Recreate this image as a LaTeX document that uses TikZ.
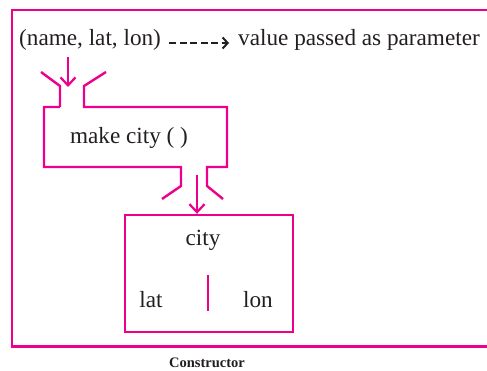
\documentclass[tikz,border=0pt]{standalone}
\usepackage{fontspec}
\setmainfont{Liberation Serif}
\usetikzlibrary{arrows.meta}
\definecolor{pinkline}{HTML}{EC008C}
\definecolor{txt}{HTML}{231F20}
\begin{document}
\begin{tikzpicture}[x=1pt,y=-1pt,
  pinkpath/.style={draw=pinkline,line width=2.4pt},
  pinkarrow/.style={draw=pinkline,line width=2.2pt,-{Straight Barb[length=8pt,width=15pt]}},
  lbl/.style={text=txt,font=\fontsize{23.2}{25}\selectfont,inner sep=0pt},
  captionlbl/.style={text=txt,font=\bfseries\fontsize{14.5}{16}\selectfont,inner sep=0pt}]
\useasboundingbox (0,0) rectangle (487,371);
% outer frame (right side runs off the picture)
\draw[pinkpath] (487,10) -- (12,10) -- (12,346.5) -- (487,346.5);
% top legend
\node[lbl,anchor=west] (params) at (19,40) {(name, lat, lon)};
\node[lbl,anchor=west] (legend) at (238,40) {value passed as parameter};
\draw[txt,line width=2pt,dash pattern=on 7pt off 3.5pt,-{Straight Barb[length=5pt,width=11pt,line width=2pt]}]
  ([xshift=8pt,yshift=-3pt]params.east) coordinate (da) -- ([xshift=-9pt,yshift=-3pt]legend.west) coordinate (db);
% make city box with notches
\draw[pinkpath] (60,107) -- (44,107) -- (44,167) -- (181,167) -- (181,186) -- (162,199);
\draw[pinkpath] (41,72) -- (60,86) -- (60,107);
\draw[pinkpath] (106,72) -- (84,86) -- (84,107) -- (227,107) -- (227,167) -- (207,167) -- (207,186) -- (223,199);
\node[lbl] (make) at (129,138) {make city ( )};
\coordinate (inTop) at (68,57);
\coordinate (inEnd) at (68,87);
\draw[pinkarrow] (inTop) -- (inEnd);
% city box
\node[draw=pinkline,line width=2.4pt,minimum width=168pt,minimum height=117pt,inner sep=0pt] (citybox) at (209,273.5) {};
\coordinate (outTop) at (197,175);
\draw[pinkarrow] (outTop) -- (citybox.north -| outTop);
\node[lbl] (city) at (203,240) {city};
\node[lbl] (lat) at (151,300) {lat};
\node[lbl] (lon) at (258,300) {lon};
\coordinate (divA) at (208,275);
\coordinate (divB) at (208,311);
\draw[pinkpath] (divA) -- (divB);
% caption
\node[captionlbl] (caption) at (207,363) {Constructor};
\end{tikzpicture}
\end{document}
